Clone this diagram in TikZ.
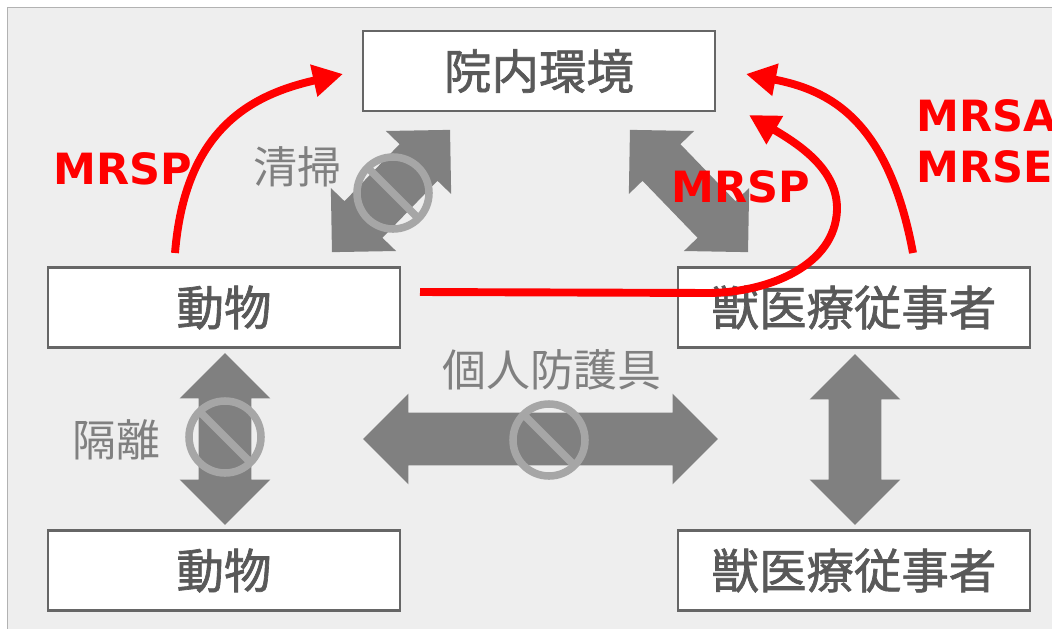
\documentclass[tikz,border=0pt]{standalone}
\usepackage{fontspec}
\setmainfont{DejaVu Sans}
\newfontfamily\jpfont{Noto Sans CJK JP}
\newfontfamily\jpboxfont[FakeBold=1.4]{Noto Sans CJK JP}
\usetikzlibrary{shapes.arrows,arrows.meta}
\definecolor{panelgray}{HTML}{EEEEEE}
\definecolor{arrowgray}{HTML}{808080}
\definecolor{signgray}{HTML}{A6A6A6}
\definecolor{boxtext}{HTML}{595959}
\definecolor{labeltext}{HTML}{808080}

\begin{document}
\begin{tikzpicture}[x=0.02cm,y=-0.02cm,
    box/.style={draw=black!60,line width=1.4pt,fill=white,minimum width=7.04cm,minimum height=1.6cm,
      font=\jpboxfont\fontsize{27}{30}\selectfont,text=boxtext},
    lbl/.style={font=\jpfont\fontsize{25}{28}\selectfont,text=labeltext},
    germ/.style={font=\bfseries\fontsize{24.5}{29}\selectfont,text=red},
    block/.style={double arrow,fill=arrowgray,inner xsep=0pt,inner ysep=0.52cm,minimum width=0pt,
      double arrow head extend=0.38cm,double arrow tip angle=90},
    spread/.style={draw=red,line width=4.5pt,-{Triangle[length=0.6cm,width=0.62cm]}},
    nogo/.pic={\draw[signgray,line width=4.3pt] (0,0) circle[radius=0.72cm] (-25.5,-25.5) -- (25.5,25.5);}]
                \useasboundingbox (0,0) rectangle (1052,629);
                \clip (0,0) rectangle (1052,629);
                \fill[white] (0,0) rectangle (1052,629);
                \draw[fill=panelgray,draw=black!30] (7,7) rectangle (1062,640);

                % boxes
                \node[box] (env) at (539,71) {院内環境};
                \node[box] (animal1) at (224,307.5) {動物};
                \node[box] (vet1) at (854,307.5) {獣医療従事者};
                \node[box] (animal2) at (224,570.5) {動物};
                \node[box] (vet2) at (854,570.5) {獣医療従事者};

                % gray two-way arrows
                \node[block,rotate=46,minimum height=3.4cm] (clean) at (391,191) {};
                \node[block,rotate=-46,minimum height=3.4cm] (touch) at (689,191) {};
                \node[block,rotate=90,minimum height=3.44cm] (isol) at (225,439) {};
                \node[block,minimum height=7.1cm] (ppe) at (540.5,439) {};
                \node[block,rotate=90,minimum height=3.42cm] (contact) at (855,439.5) {};

                \pic at (393,193) {nogo};
                \pic at (225,437) {nogo};
                \pic at (549,440) {nogo};

                \node[lbl] (cleanlbl) at (297,167) {清掃};
                \node[lbl] (isollbl) at (116,440) {隔離};
                \node[lbl] (ppelbl) at (552,370) {個人防護具};

                % transmission
                \coordinate (a1) at (175,253);
                \coordinate (e1) at (343,74);
                \coordinate (a2) at (420,292);
                \coordinate (e2) at (749,115);
                \coordinate (v1) at (913,253);
                \coordinate (e3) at (746,74);
                \draw[spread] (a1) .. controls (185,130) and (250,95) .. (e1);
                \draw[spread] (a2) -- (710,293) .. controls (770,292) and (835,265) .. (837,210)
                    .. controls (838,170) and (800,145) .. (e2);
                \draw[spread] (v1) .. controls (888,118) and (828,90) .. (e3);

                \node[germ] (mrsp1) at (123,169) {MRSP};
                \node[germ] (mrsp2) at (741,187) {MRSP};
                \node[germ,anchor=west,align=left] (mrsa) at (910,141) {MRSA\\MRSE};
            \end{tikzpicture}
\end{document}
